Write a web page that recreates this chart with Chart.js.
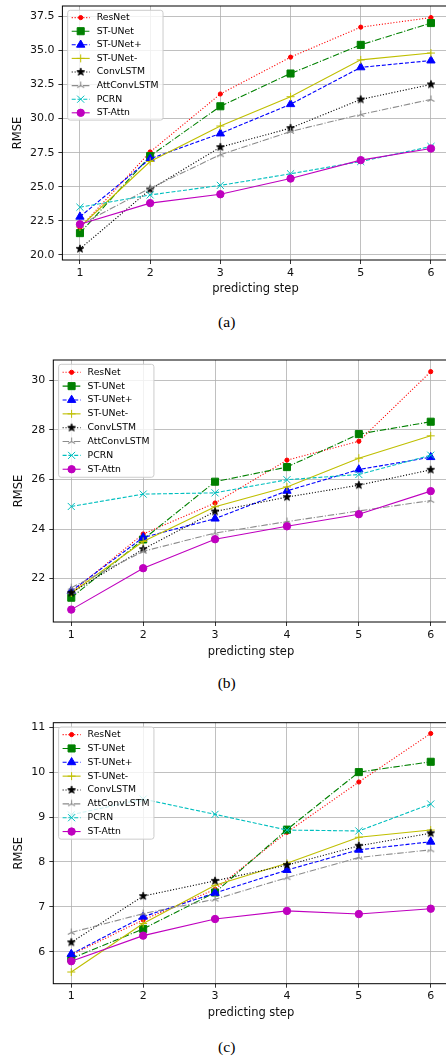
<!DOCTYPE html>
<html>
<head>
<meta charset="utf-8">
<script src="https://cdn.jsdelivr.net/npm/chart.js@4.4.0/dist/chart.umd.min.js"></script>
<style>
  html, body { margin: 0; padding: 0; background: #fff; width: 446px; height: 1057px; overflow: hidden; }
  .panel { position: absolute; left: 0; }
  .cap { position: absolute; font-family: "Liberation Serif", "DejaVu Serif", serif; font-size: 15.5px; color: #000;
         transform: translate(-50%, -50%); white-space: nowrap; }
</style>
</head>
<body>
<div class="panel" style="top:0px"><canvas id="chartA" width="460" height="300"></canvas></div>
<div class="panel" style="top:340px"><canvas id="chartB" width="460" height="320"></canvas></div>
<div class="panel" style="top:700px"><canvas id="chartC" width="460" height="330"></canvas></div>
<div class="cap" style="left:226.7px; top:322px">(a)</div>
<div class="cap" style="left:226.7px; top:683px">(b)</div>
<div class="cap" style="left:226.7px; top:1046.7px">(c)</div>

<script>
// data
const steps = [1, 2, 3, 4, 5, 6];
const seriesNames = ['ResNet', 'ST-UNet', 'ST-UNet+', 'ST-UNet-', 'ConvLSTM', 'AttConvLSTM', 'PCRN', 'ST-Attn'];

// panel (a)
const aResNet      = [22.0, 27.55, 31.8, 34.5, 36.7, 37.4];
const aSTUNet      = [21.6, 27.25, 30.9, 33.3, 35.4, 37.0];
const aSTUNetPlus  = [22.8, 27.05, 28.9, 31.05, 33.75, 34.25];
const aSTUNetMinus = [22.05, 26.85, 29.45, 31.6, 34.3, 34.8];
const aConvLSTM    = [20.45, 24.8, 27.9, 29.3, 31.4, 32.5];
const aAttConvLSTM = [22.2, 24.9, 27.35, 29.05, 30.3, 31.4];
const aPCRN        = [23.5, 24.4, 25.1, 25.95, 26.85, 27.95];
const aSTAttn      = [22.25, 23.8, 24.45, 25.6, 26.95, 27.8];

// panel (b)
const bResNet      = [21.45, 23.8, 25.05, 26.78, 27.54, 30.35];
const bSTUNet      = [21.23, 23.58, 25.91, 26.5, 27.83, 28.33];
const bSTUNetPlus  = [21.5, 23.66, 24.42, 25.54, 26.4, 26.9];
const bSTUNetMinus = [21.42, 23.5, 24.9, 25.7, 26.86, 27.76];
const bConvLSTM    = [21.43, 23.19, 24.71, 25.29, 25.77, 26.39];
const bAttConvLSTM = [21.63, 23.1, 23.84, 24.3, 24.73, 25.15];
const bPCRN        = [24.91, 25.41, 25.46, 25.99, 26.2, 26.98];
const bSTAttn      = [20.75, 22.42, 23.59, 24.11, 24.6, 25.53];

// panel (c)
const cResNet      = [5.93, 6.71, 7.39, 8.66, 9.78, 10.86];
const cSTUNet      = [5.85, 6.51, 7.32, 8.72, 10.0, 10.23];
const cSTUNetPlus  = [5.95, 6.78, 7.31, 7.82, 8.27, 8.45];
const cSTUNetMinus = [5.55, 6.63, 7.48, 7.97, 8.55, 8.71];
const cConvLSTM    = [6.21, 7.24, 7.58, 7.93, 8.36, 8.64];
const cAttConvLSTM = [6.43, 6.85, 7.17, 7.65, 8.1, 8.27];
const cPCRN        = [9.05, 9.4, 9.06, 8.71, 8.69, 9.29];
const cSTAttn      = [5.79, 6.36, 6.73, 6.91, 6.84, 6.96];

const ticksA = [20.0, 22.5, 25.0, 27.5, 30.0, 32.5, 35.0, 37.5];
const ticksB = [22, 24, 26, 28, 30];
const ticksC = [6, 7, 8, 9, 10, 11];

Chart.defaults.font.family = 'DejaVu Sans';
Chart.defaults.color = '#000';

// small marker images for shapes Chart.js lacks
function starMarker(color, r) {
  const c = document.createElement('canvas');
  c.width = c.height = Math.ceil(r * 2 + 3);
  const g = c.getContext('2d');
  const cx = c.width / 2, cy = c.height / 2;
  g.beginPath();
  for (let k = 0; k < 10; k++) {
    const rr = k % 2 ? r * 0.42 : r;
    const a = -Math.PI / 2 + k * Math.PI / 5;
    g.lineTo(cx + rr * Math.cos(a), cy + rr * Math.sin(a));
  }
  g.closePath();
  g.fillStyle = color; g.strokeStyle = color; g.lineWidth = 0.8;
  g.fill(); g.stroke();
  return c;
}
function triMarker(color, r) {
  const c = document.createElement('canvas');
  c.width = c.height = Math.ceil(r * 2 + 3);
  const g = c.getContext('2d');
  const cx = c.width / 2, cy = c.height / 2;
  g.strokeStyle = color; g.lineWidth = 1.1;
  g.beginPath();
  [-90, 30, 150].forEach(d => {
    const a = d * Math.PI / 180;
    g.moveTo(cx, cy);
    g.lineTo(cx + r * Math.cos(a), cy + r * Math.sin(a));
  });
  g.stroke();
  return c;
}

const dotted = [1.1, 1.8], dashed = [4, 1.8], dashdot = [6.5, 1.8, 1.1, 1.8], solid = [];
const seriesColors = ['#ff0000', '#008000', '#0000ff', '#bfbf00', '#000000', '#8c8c8c', '#00bfbf', '#bf00bf'];
const seriesDash = [dotted, dashdot, dashed, solid, dotted, dashdot, dashed, solid];
const seriesMarker = ['circle', 'rect', 'triangle', 'cross', starMarker('#000', 4.1), triMarker('#8c8c8c', 4), 'crossRot', 'circle'];
const seriesRadius = [2.1, 5, 4.8, 4, 4.1, 4, 5, 3.7];

const framePlugin = {
  id: 'frame',
  afterDatasetsDraw(chart) {
    const a = chart.chartArea, ctx = chart.ctx;
    ctx.save();
    ctx.strokeStyle = '#000';
    ctx.lineWidth = 1;
    ctx.strokeRect(a.left, a.top, a.right - a.left, a.bottom - a.top);
    ctx.restore();
  }
};

const legendPlugin = {
  id: 'insideLegend',
  afterDraw(chart, args, opts) {
    const ctx = chart.ctx, a = chart.chartArea;
    const sets = chart.data.datasets;
    const x0 = a.left + 5.3, y0 = a.top + 4.3;
    ctx.save();
    ctx.font = '9.3px "DejaVu Sans"';
    const tw = Math.max(...sets.map(d => ctx.measureText(d.label).width));
    const w = 29 + tw + 4.5, h = 2 * opts.first + (sets.length - 1) * opts.gap;
    ctx.beginPath();
    if (ctx.roundRect) ctx.roundRect(x0, y0, w, h, 2.5); else ctx.rect(x0, y0, w, h);
    ctx.fillStyle = 'rgba(255,255,255,0.8)';
    ctx.fill();
    ctx.strokeStyle = '#cccccc';
    ctx.lineWidth = 1;
    ctx.stroke();
    sets.forEach((d, i) => {
      const y = y0 + opts.first + i * opts.gap;
      ctx.setLineDash(d.borderDash);
      ctx.strokeStyle = d.borderColor;
      ctx.lineWidth = d.borderWidth;
      ctx.beginPath();
      ctx.moveTo(x0 + 4, y);
      ctx.lineTo(x0 + 22, y);
      ctx.stroke();
      ctx.setLineDash([]);
      ctx.fillStyle = d.pointBackgroundColor;
      ctx.strokeStyle = d.pointBorderColor;
      ctx.lineWidth = d.pointBorderWidth;
      Chart.helpers.drawPoint(ctx, {
        pointStyle: d.pointStyle, radius: d.pointRadius, rotation: 0, borderWidth: d.pointBorderWidth
      }, x0 + 13, y);
      ctx.fillStyle = '#000';
      ctx.textBaseline = 'middle';
      ctx.textAlign = 'left';
      ctx.fillText(d.label, x0 + 29, y);
    });
    ctx.restore();
  }
};

function makePanel(id, cfg) {
  const datasets = seriesNames.map((name, i) => ({
    label: name,
    data: cfg.values[i].map((v, j) => ({ x: steps[j], y: v })),
    borderColor: seriesColors[i],
    backgroundColor: seriesColors[i],
    borderWidth: 1.1,
    borderDash: seriesDash[i],
    pointStyle: seriesMarker[i],
    pointRadius: seriesRadius[i],
    pointBorderWidth: 1,
    pointBackgroundColor: seriesColors[i],
    pointBorderColor: seriesColors[i],
    tension: 0,
    fill: false,
    order: seriesNames.length - i
  }));

  const grid = { color: '#b0b0b0', lineWidth: 0.8, tickColor: '#000', tickLength: 4, drawTicks: true };

  return new Chart(document.getElementById(id), {
    type: 'line',
    data: { datasets: datasets },
    plugins: [framePlugin, legendPlugin],
    options: {
      responsive: false,
      animation: false,
      devicePixelRatio: 1,
      layout: { padding: { left: 0, top: cfg.top, right: 460 - cfg.right, bottom: 0 } },
      plugins: {
        legend: { display: false },
        tooltip: { enabled: false },
        insideLegend: { first: cfg.legendFirst, gap: cfg.legendGap }
      },
      scales: {
        x: {
          type: 'linear',
          min: 0.75,
          max: 6.25,
          afterBuildTicks: s => { s.ticks = steps.map(v => ({ value: v })); },
          afterFit: s => { s.height = cfg.height - cfg.bottom; s.paddingLeft = 0; s.paddingRight = 0; },
          grid: grid,
          border: { display: false },
          ticks: { color: '#111', font: { size: 11 }, padding: 2.3, maxRotation: 0, callback: v => String(v) },
          title: { display: true, text: 'predicting step', color: '#111', font: { size: 11.5 },
                   padding: { top: 0, bottom: cfg.xTitlePad } }
        },
        y: {
          min: cfg.yMin,
          max: cfg.yMax,
          afterBuildTicks: s => { s.ticks = cfg.ticks.map(v => ({ value: v })); },
          afterFit: s => { s.width = cfg.left; s.paddingTop = 0; s.paddingBottom = 0; },
          grid: grid,
          border: { display: false },
          ticks: { color: '#111', font: { size: 11 }, padding: 4, callback: cfg.fmt },
          title: { display: true, text: 'RMSE', color: '#111', font: { size: 11.5 },
                   padding: { top: cfg.yTitlePad, bottom: 0 } }
        }
      }
    }
  });
}

makePanel('chartA', {
  values: [aResNet, aSTUNet, aSTUNetPlus, aSTUNetMinus, aConvLSTM, aAttConvLSTM, aPCRN, aSTAttn],
  ticks: ticksA, fmt: v => Number(v).toFixed(1),
  yMin: 19.63, yMax: 38.25,
  height: 300, left: 62.4, top: 4.7, bottom: 260, right: 448.5,
  yTitlePad: 11.4, xTitlePad: 4.4, legendFirst: 7.3, legendGap: 13.6
});
makePanel('chartB', {
  values: [bResNet, bSTUNet, bSTUNetPlus, bSTUNetMinus, bConvLSTM, bAttConvLSTM, bPCRN, bSTAttn],
  ticks: ticksB, fmt: v => String(v),
  yMin: 20.25, yMax: 30.82,
  height: 320, left: 53.3, top: 20, bottom: 282, right: 448.7,
  yTitlePad: 12.4, xTitlePad: 1.4, legendFirst: 8, legendGap: 13.85
});
makePanel('chartC', {
  values: [cResNet, cSTUNet, cSTUNetPlus, cSTUNetMinus, cConvLSTM, cAttConvLSTM, cPCRN, cSTAttn],
  ticks: ticksC, fmt: v => String(v),
  yMin: 5.29, yMax: 11.1,
  height: 330, left: 53.3, top: 22.7, bottom: 283.7, right: 448.7,
  yTitlePad: 12.4, xTitlePad: 9.8, legendFirst: 7.6, legendGap: 13.85
});
</script>
</body>
</html>
